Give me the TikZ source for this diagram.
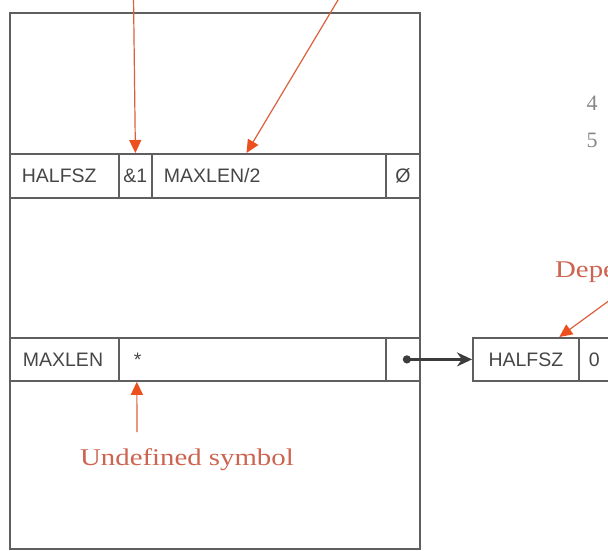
\documentclass[tikz,border=0pt]{standalone}
\usepackage{fontspec}
\setmainfont{Liberation Serif}
\newfontfamily\cellfont{Liberation Sans}
\newfontfamily\notefont[FakeStretch=1.2]{Liberation Serif}
\usetikzlibrary{arrows.meta,calc}
\definecolor{rule}{RGB}{95,95,95}
\definecolor{celltext}{RGB}{70,70,70}
\definecolor{notered}{RGB}{205,100,80}
\definecolor{pointer}{RGB}{220,95,60}
\definecolor{tipred}{RGB}{235,80,30}
\definecolor{link}{RGB}{60,60,60}
\definecolor{lineno}{RGB}{135,135,135}

\tikzset{
  frame/.style={draw=rule, line width=2pt, anchor=north west, inner sep=0pt},
  cell/.style={draw=rule, line width=1.8pt, anchor=north west, inner sep=0pt,
    minimum height=#1, text=celltext, font=\cellfont\fontsize{19.5}{20}\selectfont},
  cell/.default=44pt,
  lcell/.style 2 args={cell, align=left, text width=#1, inner xsep=#2},
  pointer/.style={draw=pointer, line width=1.2pt,
    -{Triangle[length=13pt,width=12pt,color=tipred]}},
  note/.style={text=notered, inner sep=0pt, font=\notefont\fontsize{24}{26}\selectfont},
  lineno/.style={text=lineno, inner sep=0pt, font=\fontsize{22}{23}\selectfont},
}

\begin{document}
\begin{tikzpicture}[x=1pt,y=-1pt]
  \useasboundingbox (0,0) rectangle (608,550);
  \path[clip] (0,0) rectangle (608,550);

  % storage area
  \node[frame, minimum width=410pt, minimum height=536pt] (mem) at (9,12) {};

  % entry: HALFSZ
  \node[lcell={85pt}{12pt}] (c1) at (9,153) {HALFSZ};
  \node[cell, minimum width=33pt] (c2) at (118,153) {\&1};
  \node[lcell={210pt}{12pt}] (c3) at (151,153) {MAXLEN/2};
  \node[cell, minimum width=34pt] (c4) at (385,153) {Ø};

  % entry: MAXLEN
  \node[lcell={83pt}{13pt}, minimum height=43pt] (d1) at (9,337) {MAXLEN};
  \node[lcell={237pt}{15pt}, minimum height=43pt] (d2) at (118,337) {*};
  \node[cell=43pt, minimum width=34pt] (d3) at (385,337) {};

  % dependent list
  \node[cell=43pt, minimum width=106pt] (e1) at (472,337) {HALFSZ};
  \node[lcell={40pt}{10pt}, minimum height=43pt] (e2) at (578,337) {0};

  \draw[link, line width=2.8pt,
    {Circle[length=8pt]}-{Stealth[length=15pt,width=14pt]}] (d3.center) -- (e1.west);

  % line numbers
  \node[lineno] (l4) at (592,103) {4};
  \node[lineno] (l5) at (592,140) {5};

  % annotations
  \node[note, anchor=base west] (undef) at (80,465) {Undefined symbol};
  \node[note, anchor=base west] (dep) at (555,277) {Dependent};

  \coordinate (p1) at (133.5,-5);
  \coordinate (p2) at (341,-5);
  \coordinate (p3) at (625,289);
  \coordinate (p4) at (137,432);

  \draw[pointer] (p1) -- (c2.north);
  \draw[pointer] (p2) -- ($(c3.north west)!0.405!(c3.north east)$);
  \draw[pointer] (p3) -- ($(e1.north west)!0.81!(e1.north east)$);
  \draw[pointer] (p4) -- ($(d2.south west)!0.07!(d2.south east)$);
\end{tikzpicture}
\end{document}
